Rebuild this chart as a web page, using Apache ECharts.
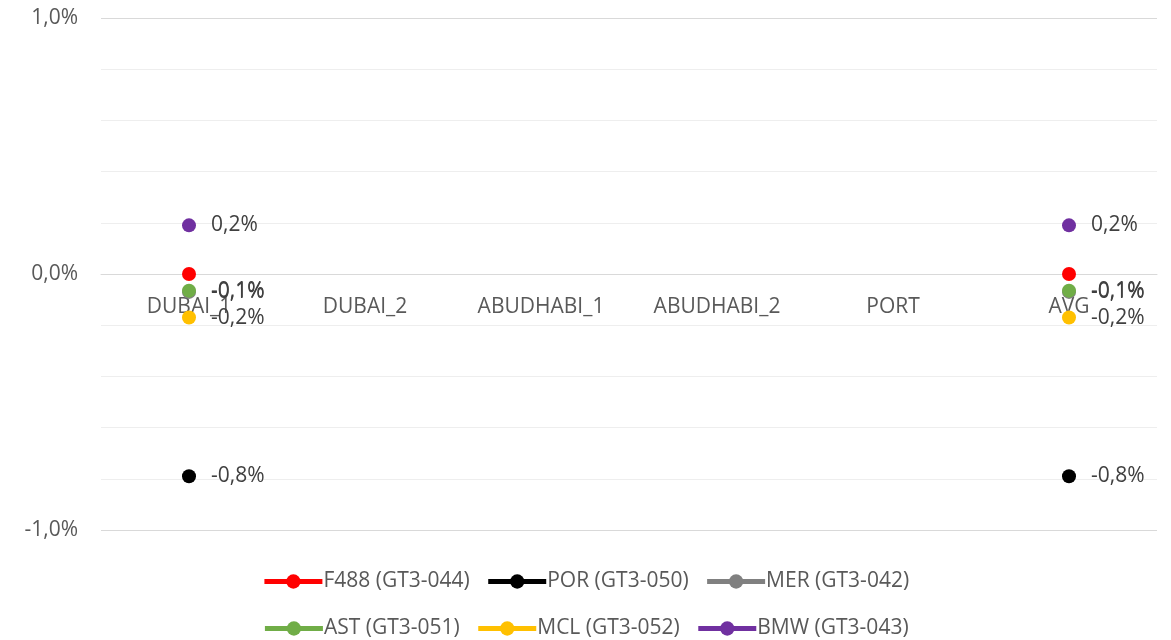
<!DOCTYPE html>
<html>
<head>
<meta charset="utf-8">
<script src="https://cdn.jsdelivr.net/npm/echarts@6/dist/echarts.min.js"></script>
<style>html,body{margin:0;padding:0;background:#fff;}#c{width:1171px;height:640px;}</style>
</head>
<body>
<div id="c"></div>
<script>
const categories = ['DUBAI_1', 'DUBAI_2', 'ABUDHABI_1', 'ABUDHABI_2', 'PORT', 'AVG'];
const seriesNames = ['F488 (GT3-044)', 'POR (GT3-050)', 'MER (GT3-042)', 'AST (GT3-051)', 'MCL (GT3-052)', 'BMW (GT3-043)'];
const seriesColors = ['#ff0000', '#000000', '#808080', '#70ad47', '#ffc000', '#7030a0'];
const f488 = [0.0, null, null, null, null, 0.0];
const por = [-0.79, null, null, null, null, -0.79];
const mer = [-0.07, null, null, null, null, -0.07];
const ast = [-0.065, null, null, null, null, -0.065];
const mcl = [-0.17, null, null, null, null, -0.17];
const bmw = [0.19, null, null, null, null, 0.19];
const seriesData = [f488, por, mer, ast, mcl, bmw];
const showLabel = [false, true, true, true, true, true];

const FONT = '"Open Sans", "Noto Sans", sans-serif';
const FS = 21;
const fmt = v => (Math.abs(v) < 0.05 && v < 0 ? '-' : '') + v.toFixed(1).replace('.', ',') + '%';

const legendBase = {
  left: 'center',
  itemWidth: 58, itemHeight: 18, itemGap: 16,
  lineStyle: { width: 5 },
  textStyle: { color: '#595959', fontSize: FS, fontFamily: FONT, padding: [0, 0, 0, -4] }
};

const chart = echarts.init(document.getElementById('c'));
chart.setOption({
  animation: false,
  grid: { left: 101, right: 14, top: 18, bottom: 110 },
  xAxis: {
    type: 'category',
    data: categories,
    offset: -256,
    axisLine: { onZero: false, lineStyle: { color: '#d9d9d9', width: 1 } },
    axisTick: { show: false },
    axisLabel: { color: '#595959', fontSize: FS, fontFamily: FONT, margin: 23 },
    splitLine: { show: false }
  },
  yAxis: {
    type: 'value',
    min: -1, max: 1, interval: 1,
    axisLine: { show: false },
    axisTick: { show: false },
    axisLabel: { color: '#595959', fontSize: FS, fontFamily: FONT, margin: 23, formatter: v => v.toFixed(1).replace('.', ',') + '%' },
    splitLine: { lineStyle: { color: '#d9d9d9', width: 1 } },
    minorTick: { show: false, splitNumber: 5 },
    minorSplitLine: { show: true, lineStyle: { color: '#eeeeee', width: 1 } }
  },
  legend: [
    Object.assign({}, legendBase, { data: seriesNames.slice(0, 3), top: 566 }),
    Object.assign({}, legendBase, { data: seriesNames.slice(3), top: 613 })
  ],
  series: seriesNames.map((name, i) => ({
    name: name,
    type: 'line',
    data: seriesData[i],
    color: seriesColors[i],
    symbol: 'circle',
    symbolSize: 14,
    lineStyle: { width: 5, color: seriesColors[i] },
    itemStyle: { color: seriesColors[i] },
    label: {
      show: showLabel[i],
      position: 'right',
      distance: 15,
      color: '#404040',
      fontSize: FS,
      fontFamily: FONT,
      formatter: p => p.value == null ? '' : fmt(p.value)
    },
    labelLayout: { hideOverlap: false }
  }))
});
</script>
</body>
</html>
